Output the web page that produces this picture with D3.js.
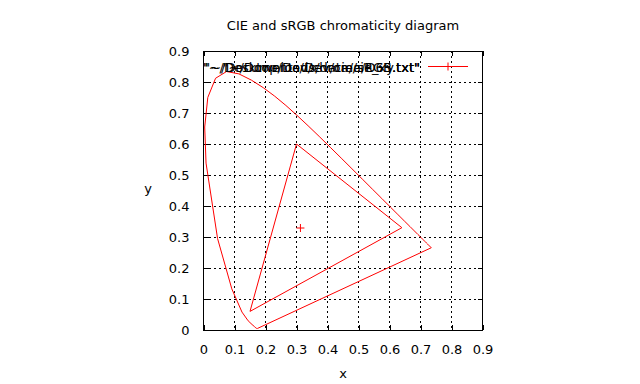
<!DOCTYPE html>
<html><head><meta charset="utf-8">
<script src="https://cdn.jsdelivr.net/npm/d3@7"></script>
<style>body{margin:0;background:#fff;} text{font-family:"DejaVu Sans",sans-serif;}</style>
</head><body><svg id="c" width="640" height="384"></svg>
<script>
// CIE 1931 spectral locus (x, y)
const cieX = [0.1741,0.1738,0.1733,0.1726,0.1714,0.1689,0.1644,0.1566,0.1440,0.1241,0.0913,0.0454,0.0082,0.0039,0.0139,0.0389,0.0743,0.1142,0.1547,0.1929,0.2296,0.2658,0.3016,0.3373,0.3731,0.4087,0.4441,0.4788,0.5125,0.5448,0.5752,0.6029,0.6270,0.6482,0.6658,0.6801,0.6915,0.7006,0.7079,0.7140,0.7190,0.7230,0.7260,0.7347,0.1741];
const cieY = [0.0050,0.0049,0.0048,0.0048,0.0051,0.0069,0.0109,0.0177,0.0297,0.0578,0.1327,0.2950,0.5384,0.6548,0.7502,0.8120,0.8338,0.8262,0.8059,0.7816,0.7543,0.7243,0.6923,0.6589,0.6245,0.5896,0.5547,0.5202,0.4866,0.4544,0.4242,0.3965,0.3725,0.3514,0.3340,0.3197,0.3083,0.2993,0.2920,0.2859,0.2809,0.2770,0.2740,0.2653,0.0050];
// sRGB gamut triangle
const srgbX = [0.64,0.30,0.15,0.64];
const srgbY = [0.33,0.60,0.06,0.33];
// D65 white point
const d65X = [0.3127];
const d65Y = [0.3290];
const ticks = [0,0.1,0.2,0.3,0.4,0.5,0.6,0.7,0.8,0.9];
const keyTitles = ['"~/Documents/Dev/cie/sRGB.txt"','"~/Desktop/Dev/chroma/D65.txt"','"~/Downloads/data/cie_xy.txt"'];

const svg = d3.select("#c");
const L=203.5, R=482.5, T=51, B=330;
const x = d3.scaleLinear().domain([0,0.9]).range([L,R]);
const y = d3.scaleLinear().domain([0,0.9]).range([B,T]);

// grid
const g = svg.append("g");
ticks.slice(1,-1).forEach(t=>{
  g.append("line").attr("x1",x(t)).attr("x2",x(t)).attr("y1",T).attr("y2",B)
   .attr("stroke","#000").attr("stroke-width",1).attr("stroke-dasharray","2,3").attr("shape-rendering","crispEdges");
  g.append("line").attr("y1",y(t)).attr("y2",y(t)).attr("x1",L).attr("x2",R)
   .attr("stroke","#000").attr("stroke-width",1).attr("stroke-dasharray","2,3").attr("shape-rendering","crispEdges");
});

// axes with inward ticks (mirrored)
const fmt = d=>d===0?"0":d3.format(".1f")(d);
const ax = (gen,tr)=>{const a=svg.append("g").attr("transform",tr).call(gen); a.select(".domain").remove(); a.selectAll("line").attr("stroke","#000").attr("shape-rendering","crispEdges"); return a;};
const bot = ax(d3.axisBottom(x).tickValues(ticks).tickFormat(fmt).tickSizeInner(-5).tickPadding(15),`translate(0,${B})`);
bot.selectAll("text").attr("font-size",13).attr("fill","#000");
ax(d3.axisTop(x).tickValues(ticks).tickFormat("").tickSizeInner(-5),`translate(0,${T})`);
const lf = ax(d3.axisLeft(y).tickValues(ticks).tickFormat(fmt).tickSizeInner(-5).tickPadding(14),`translate(${L},0)`);
lf.selectAll("text").attr("font-size",13).attr("fill","#000");
ax(d3.axisRight(y).tickValues(ticks).tickFormat("").tickSizeInner(-5),`translate(${R},0)`);
svg.append("rect").attr("x",L).attr("y",T).attr("width",R-L).attr("height",B-T)
  .attr("fill","none").attr("stroke","#000").attr("shape-rendering","crispEdges");

// data
const line = d3.line().x(d=>x(d[0])).y(d=>y(d[1]));
svg.append("path").datum(d3.zip(cieX,cieY)).attr("d",line).attr("fill","none").attr("stroke","#f00").attr("stroke-width",1);
svg.append("path").datum(d3.zip(srgbX,srgbY)).attr("d",line).attr("fill","none").attr("stroke","#f00").attr("stroke-width",1);
d3.zip(d65X,d65Y).forEach(p=>{
  svg.append("path").attr("d",`M${x(p[0])-4},${y(p[1])}h8M${x(p[0])},${y(p[1])-4}v8`).attr("stroke","#f00").attr("stroke-width",1);
});

// key (titles overlap, as in the reference)
keyTitles.forEach(t=>{
  svg.append("text").attr("x",420).attr("y",72).attr("text-anchor","end").attr("font-size",13).attr("fill","#000").text(t);
});
svg.append("line").attr("x1",428).attr("x2",468).attr("y1",66.5).attr("y2",66.5).attr("stroke","#f00");
svg.append("path").attr("d",`M444,66.5h8M448,62.5v8`).attr("stroke","#f00");

// labels
svg.append("text").attr("x",343).attr("y",30).attr("text-anchor","middle").attr("font-size",13).text("CIE and sRGB chromaticity diagram");
svg.append("text").attr("x",343).attr("y",378).attr("text-anchor","middle").attr("font-size",13).text("x");
svg.append("text").attr("x",148).attr("y",193).attr("text-anchor","middle").attr("font-size",13).text("y");
</script></body></html>
